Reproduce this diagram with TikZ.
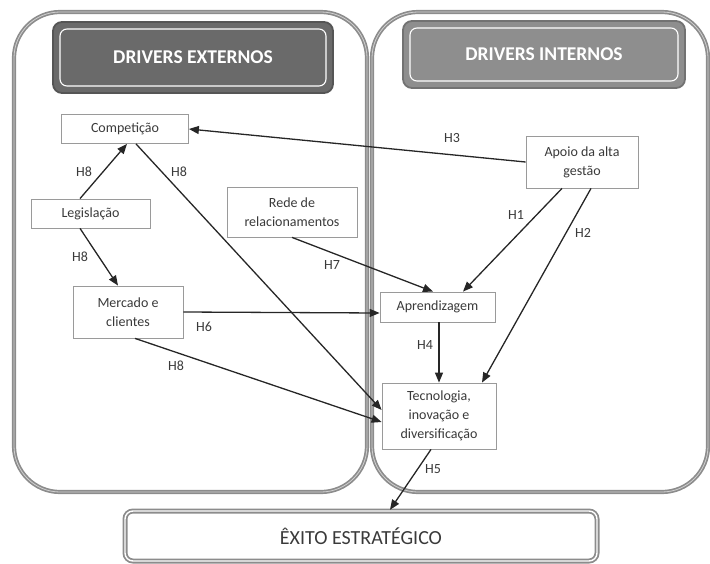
\documentclass[tikz,border=0pt]{standalone}
\usepackage{fontspec}
\setmainfont{Carlito}
\usetikzlibrary{arrows.meta,calc}
\definecolor{frame}{HTML}{8C8C8C}
\definecolor{framein}{HTML}{D0D0D0}
\definecolor{hdark}{HTML}{6A6A6A}
\definecolor{hlight}{HTML}{8E8E8E}
\definecolor{txt}{HTML}{3A3A3A}
\definecolor{boxline}{HTML}{9A9A9A}
\begin{document}
\begin{tikzpicture}[x=1pt,y=-1pt,
  panel/.style={draw=frame,line width=1.7pt,double=framein,double distance=0.8pt,rounded corners=46pt},
  header/.style={draw=#1!80!black,fill=#1,line width=1.8pt,rounded corners=9pt},
  headerin/.style={draw=white,line width=1.1pt,rounded corners=7pt},
  concept/.style={draw=boxline,line width=0.8pt,fill=white,text=txt,align=center,
    font=\fontsize{14}{19}\selectfont,inner sep=0pt},
  link/.style={-{Triangle[length=10pt,width=8pt]},line width=1.3pt,draw=black!85},
  hyp/.style={text=txt,font=\fontsize{14}{16}\selectfont,inner sep=1pt}]
\useasboundingbox (0,0) rectangle (710,563);

% the two panels of drivers
\draw[panel] (14,12) rectangle (367,492);
\draw[panel] (372,12) rectangle (708,492);

% panel headers
\draw[header=hdark] (53,22) rectangle (333,93);
\draw[headerin] (60,29) rectangle (326,86);
\node[text=white,font=\fontsize{19.5}{21}\selectfont\bfseries] (hext) at (193,57.5) {DRIVERS EXTERNOS};
\draw[header=hlight] (403,21) rectangle (685,88);
\draw[headerin] (410,28) rectangle (678,81);
\node[text=white,font=\fontsize{19.5}{21}\selectfont\bfseries] (hint) at (544,54.5) {DRIVERS INTERNOS};

% outcome box
\draw[draw=frame,line width=1.8pt,double=white,double distance=1.4pt,rounded corners=8pt] (125,511) rectangle (597,561);
\node[text=txt,font=\fontsize{20}{22}\selectfont] (exito) at (361,536) [minimum width=474pt,minimum height=52pt] {ÊXITO ESTRATÉGICO};

% constructs
\node[concept,minimum width=127pt,minimum height=29pt] (comp) at (125,129) {Competição};
\node[concept,minimum width=119pt,minimum height=29pt] (legis) at (90.5,213.5) {Legislação};
\node[concept,minimum width=110pt,minimum height=52pt] (merc) at (128,312) {Mercado e\\clientes};
\node[concept,minimum width=130pt,minimum height=50pt] (rede) at (292,212) {Rede de\\relacionamentos};
\node[concept,minimum width=112pt,minimum height=52pt] (apoio) at (582,162) {Apoio da alta\\gestão};
\node[concept,minimum width=115pt,minimum height=30pt] (apren) at (437.5,307) {Aprendizagem};
\node[concept,minimum width=114pt,minimum height=66pt] (tec) at (439,416) {Tecnologia,\\inovação e\\diversificação};

% hypotheses
\draw[link] (apoio.west) -- (comp.east);
\draw[link] ([xshift=-10.5pt]legis.north) -- ([xshift=2pt]comp.south);
\draw[link] ([xshift=-10.5pt]legis.south) -- ([xshift=-10pt]merc.north);
\draw[link] ([xshift=11pt]comp.south) -- ([yshift=6pt]tec.west);
\draw[link] ([xshift=7pt]merc.south) -- ([yshift=-6pt]tec.west);
\draw[link] (merc.east) -- ([yshift=-6pt]apren.west);
\draw[link] (rede.south) -- ([xshift=-4.5pt]apren.north);
\draw[link] ([xshift=-20pt]apoio.south) -- ([xshift=25.5pt]apren.north);
\draw[link] ([xshift=9pt]apoio.south) -- ([xshift=43pt]tec.north);
\draw[link] ([xshift=1.5pt]apren.south) -- (tec.north);
\draw[link] ([xshift=-8pt]tec.south) -- ([xshift=29pt]exito.north);

% hypothesis labels
\node[hyp] (h3) at (452,138) {H3};
\node[hyp] (h8a) at (84,172) {H8};
\node[hyp] (h8b) at (179,172) {H8};
\node[hyp] (h8c) at (80,257) {H8};
\node[hyp] (h6) at (204,327) {H6};
\node[hyp] (h7) at (332,265) {H7};
\node[hyp] (h8d) at (176,366) {H8};
\node[hyp] (h1) at (516,215) {H1};
\node[hyp] (h2) at (583,233) {H2};
\node[hyp] (h4) at (425,345) {H4};
\node[hyp] (h5) at (433,469) {H5};
\end{tikzpicture}
\end{document}
